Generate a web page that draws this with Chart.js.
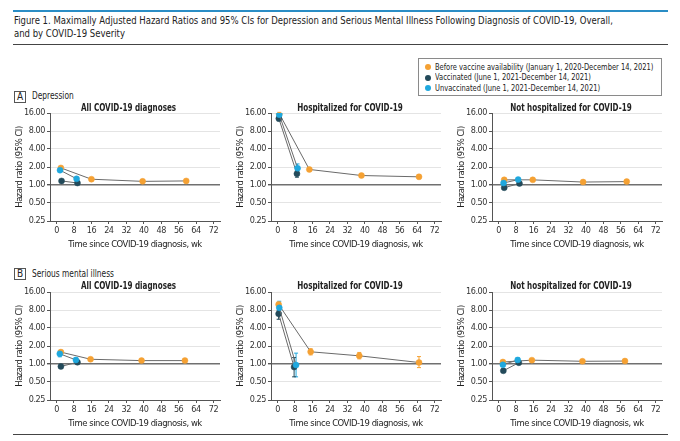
<!DOCTYPE html>
<html>
<head>
<meta charset="utf-8">
<script src="https://cdn.jsdelivr.net/npm/chart.js@4.4.0/dist/chart.umd.min.js"></script>
<style>
  body { margin: 0; width: 680px; height: 441px; background: #fff; position: relative; overflow: hidden;
         font-family: "Liberation Sans Narrow", "DejaVu Sans Condensed", sans-serif; color: #222; }
  .abs { position: absolute; }
  .sq { display: inline-block; transform-origin: left center; white-space: nowrap; }
  .rule { position: absolute; left: 13px; width: 655px; }
  .legend { left: 418px; top: 57.5px; width: 242px; height: 36px; border: 1px solid #8a8a8a; font-size: 9px; }
  .legend div { position: absolute; left: 16px; white-space: nowrap; line-height: 10px; }
  .legend i { position: absolute; left: -10px; top: 2.5px; width: 6px; height: 6px; border-radius: 50%; }
  .plabel { font-size: 10px; white-space: nowrap; line-height: 12px; }
  .plabel b { position: absolute; left: 0; top: 0; width: 10px; height: 10px; border: 1px solid #555; text-align: center;
              line-height: 10px; font-weight: normal; }
  .plabel .sq { position: absolute; left: 18px; top: -0.5px; transform: scaleX(0.83); }
  .ctitle { width: 200px; text-align: center; font-size: 10px; font-weight: bold; white-space: nowrap; }
  .ctitle .sq { transform-origin: center center; transform: scaleX(0.8); }
  .wrap { position: absolute; width: 225px; height: 146px; }
</style>
</head>
<body>
<div class="rule" style="top:9.5px;height:2px;background:#2a8dc5"></div>
<div class="abs" style="left:14px;top:14px;font-size:11px;line-height:13px">
  <span class="sq" style="transform:scaleX(0.86)">Figure 1. Maximally Adjusted Hazard Ratios and 95% CIs for Depression and Serious Mental Illness Following Diagnosis of COVID-19, Overall,<br>and by COVID-19 Severity</span>
</div>
<div class="rule" style="top:43.5px;height:1px;background:#444"></div>
<div class="rule" style="top:433.5px;height:1px;background:#444"></div>

<div class="abs legend" id="legend"></div>
<div class="abs plabel" style="left:14px;top:90.5px"><b>A</b><span class="sq">Depression</span></div>
<div class="abs plabel" style="left:14px;top:268px"><b>B</b><span class="sq">Serious mental illness</span></div>
<div id="charts"></div>

<script>
// series labels and colours
const seriesLabels = [
  'Before vaccine availability (January 1, 2020-December 14, 2021)',
  'Vaccinated (June 1, 2021-December 14, 2021)',
  'Unvaccinated (June 1, 2021-December 14, 2021)'
];
const seriesColors = ['#f5a133', '#234a5a', '#1fa8de'];

const panelTitles = ['All COVID-19 diagnoses', 'Hospitalized for COVID-19', 'Not hospitalized for COVID-19'];
const yTicks = [0.25, 0.5, 1, 2, 4, 8, 16];
const xTicks = [0, 8, 16, 24, 32, 40, 48, 56, 64, 72];

// [week, HR, lower CI, upper CI]
// A. Depression
const depAllBefore = [[2, 1.93, 1.88, 1.98], [16, 1.25, 1.22, 1.28], [39.5, 1.15, 1.12, 1.18], [59.5, 1.17, 1.13, 1.21]];
const depAllVacc = [[2.3, 1.17, 1.11, 1.23], [9.6, 1.08, 1.03, 1.13]];
const depAllUnvacc = [[1.6, 1.77, 1.71, 1.83], [9.2, 1.27, 1.21, 1.33]];

const depHospBefore = [[0.8, 15.6, 14.8, 16.4], [14.6, 1.82, 1.74, 1.90], [38.5, 1.44, 1.37, 1.51], [64.9, 1.37, 1.27, 1.47]];
const depHospVacc = [[0.6, 12.9, 11.8, 14.1], [8.9, 1.54, 1.35, 1.75]];
const depHospUnvacc = [[0.8, 15.0, 14.1, 16.0], [9.2, 1.91, 1.64, 2.25]];

const depNotBefore = [[2.6, 1.22, 1.18, 1.26], [15.7, 1.22, 1.19, 1.25], [38.8, 1.12, 1.09, 1.15], [58.8, 1.14, 1.10, 1.18]];
const depNotVacc = [[2.6, 0.90, 0.85, 0.95], [9.6, 1.06, 1.01, 1.11]];
const depNotUnvacc = [[2.3, 1.08, 1.03, 1.13], [9.0, 1.23, 1.17, 1.29]];

// B. Serious mental illness
const smiAllBefore = [[2, 1.58, 1.50, 1.66], [15.6, 1.20, 1.16, 1.24], [39, 1.14, 1.10, 1.18], [58.9, 1.14, 1.10, 1.18]];
const smiAllVacc = [[2, 0.91, 0.86, 0.96], [9.6, 1.07, 1.01, 1.13]];
const smiAllUnvacc = [[1.5, 1.48, 1.32, 1.66], [8.9, 1.17, 1.08, 1.27]];

const smiHospBefore = [[0.5, 9.9, 8.8, 10.8], [15.2, 1.60, 1.42, 1.80], [37.5, 1.37, 1.22, 1.56], [64.9, 1.06, 0.87, 1.33]];
const smiHospVacc = [[0.5, 6.9, 5.6, 7.8], [7.6, 0.89, 0.61, 1.28]];
const smiHospUnvacc = [[0.8, 8.7, 7.3, 11.2], [8.5, 0.96, 0.61, 1.52]];

const smiNotBefore = [[2, 1.08, 1.03, 1.13], [15.3, 1.16, 1.13, 1.19], [38.5, 1.11, 1.08, 1.14], [58, 1.12, 1.09, 1.15]];
const smiNotVacc = [[2.2, 0.77, 0.72, 0.82], [9.3, 1.05, 0.99, 1.11]];
const smiNotUnvacc = [[2.0, 0.97, 0.92, 1.02], [8.8, 1.17, 1.07, 1.27]];

const panels = [
  [depAllBefore, depAllVacc, depAllUnvacc],
  [depHospBefore, depHospVacc, depHospUnvacc],
  [depNotBefore, depNotVacc, depNotUnvacc],
  [smiAllBefore, smiAllVacc, smiAllUnvacc],
  [smiHospBefore, smiHospVacc, smiHospUnvacc],
  [smiNotBefore, smiNotVacc, smiNotUnvacc]
];

const FONT = '"Liberation Sans Narrow", "DejaVu Sans Condensed", sans-serif';
Chart.defaults.font.family = FONT;
Chart.defaults.font.size = 9;
Chart.defaults.color = '#333';

// legend
const legend = document.getElementById('legend');
seriesLabels.forEach((l, i) => {
  const d = document.createElement('div');
  d.style.top = (3 + i * 10.5) + 'px';
  d.innerHTML = `<i style="background:${seriesColors[i]}"></i><span class="sq" style="transform:scaleX(0.83)">${l}</span>`;
  legend.appendChild(d);
});

// tighter letter spacing so the canvas text reads condensed like the original
const condensed = {
  id: 'condensed',
  beforeLayout(chart) { chart.ctx.letterSpacing = '-0.45px'; },
  beforeDraw(chart) { chart.ctx.letterSpacing = '-0.45px'; }
};

// error bars drawn from the scales
const errorBars = {
  id: 'errorBars',
  beforeDatasetsDraw(chart) {
    const { ctx, scales: { x, y } } = chart;
    ctx.save();
    ctx.lineWidth = 1;
    chart.data.datasets.forEach(ds => {
      ctx.strokeStyle = ds.pointBackgroundColor;
      ds.data.forEach(p => {
        const px = x.getPixelForValue(p.x);
        const y1 = y.getPixelForValue(p.lo);
        const y2 = y.getPixelForValue(p.hi);
        ctx.beginPath();
        ctx.moveTo(px, y1); ctx.lineTo(px, y2);
        ctx.moveTo(px - 2, y1); ctx.lineTo(px + 2, y1);
        ctx.moveTo(px - 2, y2); ctx.lineTo(px + 2, y2);
        ctx.stroke();
      });
    });
    ctx.restore();
  }
};

const colLeft = [0, 220.7, 441.7];
const rowTop = [105.3, 283.7];
const titleTop = [101.5, 280];
const holder = document.getElementById('charts');

panels.forEach((series, k) => {
  const col = k % 3, row = Math.floor(k / 3);
  const t = document.createElement('div');
  t.className = 'abs ctitle';
  t.style.left = (colLeft[col] + 50 + 85 - 6 - 100) + 'px';
  t.style.top = titleTop[row] + 'px';
  t.innerHTML = `<span class="sq">${panelTitles[col]}</span>`;
  document.body.appendChild(t);

  const wrap = document.createElement('div');
  wrap.className = 'wrap';
  wrap.style.left = colLeft[col] + 'px';
  wrap.style.top = rowTop[row] + 'px';
  const canvas = document.createElement('canvas');
  wrap.appendChild(canvas);
  holder.appendChild(wrap);

  // unvaccinated on top, then vaccinated, then before
  const order = [2, 1, 0];
  const datasets = order.map(i => ({
    label: seriesLabels[i],
    data: series[i].map(p => ({ x: p[0], y: p[1], lo: p[2], hi: p[3] })),
    showLine: true,
    borderColor: '#6a6a6a',
    borderWidth: 1,
    pointBackgroundColor: seriesColors[i],
    pointBorderColor: seriesColors[i],
    pointRadius: 3,
    pointBorderWidth: 0.5
  }));

  new Chart(canvas, {
    type: 'scatter',
    data: { datasets },
    options: {
      responsive: true,
      maintainAspectRatio: false,
      animation: false,
      layout: { padding: { top: 8, right: 5, left: 0, bottom: 0 } },
      plugins: { legend: { display: false }, tooltip: { enabled: false } },
      scales: {
        x: {
          type: 'linear', min: -3, max: 75,
          afterBuildTicks: s => { s.ticks = xTicks.map(v => ({ value: v })); },
          afterFit: s => { s.height = 30; },
          grid: { drawOnChartArea: false, drawTicks: true, tickLength: 3, tickColor: '#555' },
          border: { color: '#555' },
          ticks: { padding: 1, maxRotation: 0, color: '#333' },
          title: { display: true, text: 'Time since COVID-19 diagnosis, wk', font: { size: 9.4 },
                   color: '#222', padding: { top: 0, bottom: 1 } }
        },
        y: {
          type: 'logarithmic', min: 0.25, max: 16,
          afterBuildTicks: s => { s.ticks = yTicks.map(v => ({ value: v })); },
          afterFit: s => { s.width = 50; },
          grid: {
            color: c => (c.tick && c.tick.value === 1) ? '#707070' : '#e4e4e4',
            lineWidth: c => (c.tick && c.tick.value === 1) ? 1.4 : 1,
            tickLength: 3, tickColor: '#555'
          },
          border: { color: '#555' },
          ticks: { padding: 2, color: '#333', callback: v => Number(v).toFixed(2) },
          title: { display: true, text: 'Hazard ratio (95% CI)', font: { size: 9.4 },
                   color: '#222', padding: { top: 14, bottom: 0 } }
        }
      }
    },
    plugins: [condensed, errorBars]
  });
});
</script>
</body>
</html>
